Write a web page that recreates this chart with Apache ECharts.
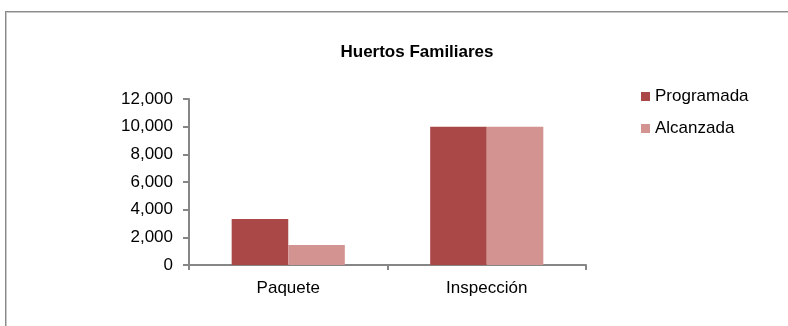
<!DOCTYPE html>
<html>
<head>
<meta charset="utf-8">
<script src="https://cdn.jsdelivr.net/npm/echarts@6/dist/echarts.min.js"></script>
<style>
  html, body { margin: 0; padding: 0; background: #fff; }
  .frame {
    position: absolute;
    left: 5px;
    top: 11px;
    width: 800px;
    height: 340px;
    border: 1px solid #8a8a8a;
    box-shadow: 1px 1px 0 #c8c8c8 inset;
  }
  #chart { position: absolute; left: 0; top: 0; width: 788px; height: 326px; }
</style>
</head>
<body>
<div class="frame"></div>
<div id="chart"></div>
<script>
const categories = ['Paquete', 'Inspección'];
const programada = [3330, 10000];
const alcanzada = [1450, 10000];
const yMax = 12000;
const yStep = 2000;

const axisColor = '#868686';
const labelFont = {color: '#000', fontSize: 17, fontFamily: 'Liberation Sans'};

const chart = echarts.init(document.getElementById('chart'));
chart.setOption({
  animation: false,
  title: {
    text: 'Huertos Familiares',
    left: 412,
    top: 39,
    textAlign: 'center',
    textStyle: {fontSize: 17, fontWeight: 'bold', color: '#000', fontFamily: 'Liberation Sans'}
  },
  legend: {
    orient: 'vertical',
    left: 641,
    top: 88,
    padding: 0,
    itemWidth: 9,
    itemHeight: 9,
    itemGap: 15,
    icon: 'rect',
    textStyle: labelFont,
    data: ['Programada', 'Alcanzada']
  },
  grid: {
    left: 189,
    right: 202,
    top: 99,
    bottom: 61
  },
  xAxis: {
    type: 'category',
    data: categories,
    axisLine: {lineStyle: {color: axisColor, width: 2}},
    axisTick: {show: true, length: 5, lineStyle: {color: axisColor, width: 2}},
    axisLabel: Object.assign({margin: 15}, labelFont)
  },
  yAxis: {
    type: 'value',
    min: 0,
    max: yMax,
    interval: yStep,
    splitLine: {show: false},
    axisLine: {show: true, lineStyle: {color: axisColor, width: 2}},
    axisTick: {show: true, length: 6, lineStyle: {color: axisColor, width: 2}},
    axisLabel: Object.assign({
      margin: 16,
      formatter: v => v.toLocaleString('en-US')
    }, labelFont)
  },
  series: [
    {
      name: 'Programada',
      type: 'bar',
      data: programada,
      barWidth: '28.5%',
      barGap: '0%',
      itemStyle: {color: '#A94846'}
    },
    {
      name: 'Alcanzada',
      type: 'bar',
      data: alcanzada,
      barWidth: '28.5%',
      barGap: '0%',
      itemStyle: {color: '#D39391'}
    }
  ]
});
</script>
</body>
</html>
